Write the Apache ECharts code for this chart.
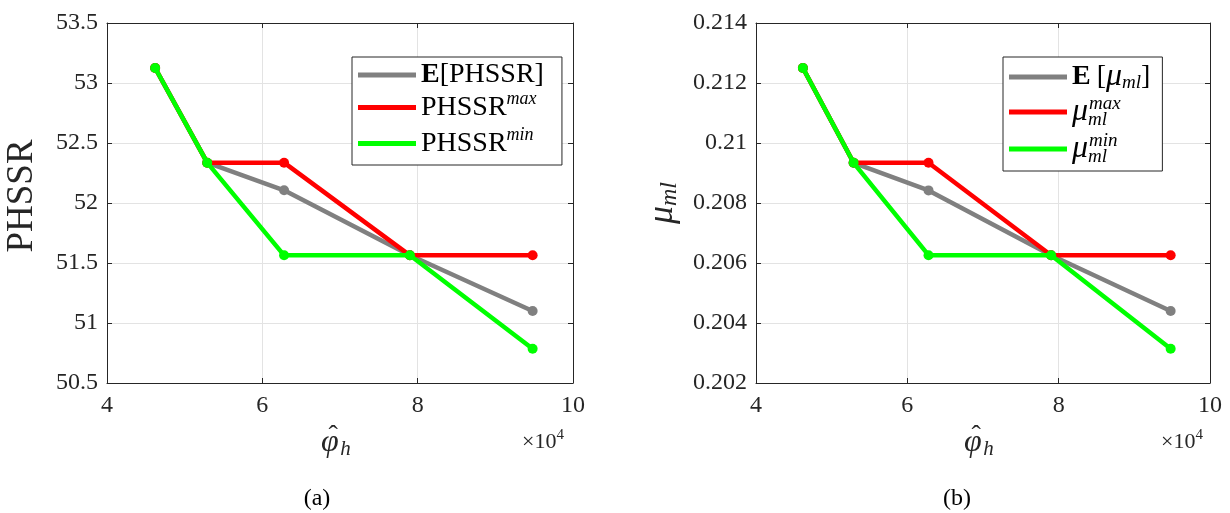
<!DOCTYPE html>
<html>
<head>
<meta charset="utf-8">
<script src="https://cdn.jsdelivr.net/npm/echarts@6/dist/echarts.min.js"></script>
<style>
html,body{margin:0;padding:0;background:#fff;}
#chart{width:1230px;height:513px;}
</style>
</head>
<body>
<div id="chart"></div>
<script>
// ---- data ----
const phiH = [46200, 52900, 62800, 79000, 94800];
const phssrMean = [53.125, 52.336, 52.106, 51.564, 51.10];
const phssrMax  = [53.125, 52.336, 52.336, 51.564, 51.564];
const phssrMin  = [53.125, 52.336, 51.564, 51.564, 50.786];
const muMean = [0.2125, 0.20934, 0.20842, 0.20626, 0.2044];
const muMax  = [0.2125, 0.20934, 0.20934, 0.20626, 0.20626];
const muMin  = [0.2125, 0.20934, 0.20626, 0.20626, 0.20314];
const xTicks = [4, 6, 8, 10];            // ×10^4
const yTicksA = [50.5, 51, 51.5, 52, 52.5, 53, 53.5];
const yTicksB = [0.202, 0.204, 0.206, 0.208, 0.21, 0.212, 0.214];
const names = {
  aMean: 'E[PHSSR]', aMax: 'PHSSR max', aMin: 'PHSSR min',
  bMean: 'E[mu_ml]', bMax: 'mu_ml max', bMin: 'mu_ml min'
};

const FONT = '"Liberation Serif", "DejaVu Serif", serif';
const INK = '#262626';
const GRIDC = '#e3e3e3';
const C_GRAY = '#808080', C_RED = '#ff0000', C_GREEN = '#00ff00';

function pairs(xs, ys) { return xs.map((x, i) => [x, ys[i]]); }

function xAxisDef(gi, pos) {
  const bottom = pos === 'bottom';
  return {
    type: 'value', gridIndex: gi, position: pos,
    min: xTicks[0] * 1e4, max: xTicks[xTicks.length - 1] * 1e4, interval: 2e4,
    axisLine: { show: true, onZero: false, lineStyle: { color: INK, width: 1 } },
    axisTick: { show: true, inside: true, length: 5, lineStyle: { color: INK } },
    axisLabel: { show: bottom, margin: 11, color: INK, fontFamily: FONT, fontSize: 24,
      formatter: v => String(v / 1e4) },
    splitLine: { show: bottom, lineStyle: { color: GRIDC, width: 1 } }
  };
}
function yAxisDef(gi, pos, ticks, step, dec) {
  const left = pos === 'left';
  return {
    type: 'value', gridIndex: gi, position: pos,
    min: ticks[0], max: ticks[ticks.length - 1], interval: step,
    axisLine: { show: true, onZero: false, lineStyle: { color: INK, width: 1 } },
    axisTick: { show: true, inside: true, length: 5, lineStyle: { color: INK } },
    axisLabel: { show: left, margin: 9, color: INK, fontFamily: FONT, fontSize: 24,
      formatter: v => String(parseFloat(v.toFixed(dec))) },
    splitLine: { show: left, lineStyle: { color: GRIDC, width: 1 } }
  };
}
function lineSeries(name, xi, yi, xs, ys, color, z) {
  return {
    type: 'line', name: name, xAxisIndex: xi, yAxisIndex: yi,
    data: pairs(xs, ys), z: z,
    lineStyle: { color: color, width: 4.5 },
    itemStyle: { color: color },
    symbol: 'circle', symbolSize: 10, showSymbol: true,
    animation: false
  };
}

const richBase = {
  n:   { fontFamily: FONT, fontSize: 28, lineHeight: 35, color: '#000' },
  sp:  { fontFamily: FONT, fontSize: 28, lineHeight: 35, color: '#000', width: 6 },
  b:   { fontFamily: FONT, fontSize: 28, lineHeight: 35, color: '#000', fontWeight: 'bold' },
  sup: { fontFamily: FONT, fontSize: 18, lineHeight: 18, color: '#000', fontStyle: 'italic', padding: [0, 0, 17, 0] },
  mu:  { fontFamily: FONT, fontSize: 32, lineHeight: 35, color: '#000', fontStyle: 'italic' },
  sub: { fontFamily: FONT, fontSize: 19, lineHeight: 19, color: '#000', fontStyle: 'italic', padding: [12, 0, 0, 0] },
  subz:{ fontFamily: FONT, fontSize: 19, lineHeight: 19, color: '#000', fontStyle: 'italic', padding: [15, 0, 0, 0], width: 1 },
  supm:{ fontFamily: FONT, fontSize: 19, lineHeight: 19, color: '#000', fontStyle: 'italic', padding: [0, 0, 17, 0] }
};
const legendFmt = {};
legendFmt[names.aMean] = '{b|E}{n|[PHSSR]}';
legendFmt[names.aMax]  = '{n|PHSSR}{sup|max}';
legendFmt[names.aMin]  = '{n|PHSSR}{sup|min}';
legendFmt[names.bMean] = '{b|E}{sp| }{n|[}{mu|μ}{sub|ml}{n|]}';
legendFmt[names.bMax]  = '{mu|μ}{subz|ml}{supm|max}';
legendFmt[names.bMin]  = '{mu|μ}{subz|ml}{supm|min}';

function legendDef(left, data, padR) {
  return {
    show: true, orient: 'vertical', left: left, top: 57,
    data: data, icon: 'rect', itemWidth: 58, itemHeight: 5, itemGap: 1,
    padding: [4, padR, 4, 6],
    backgroundColor: '#fff', borderColor: INK, borderWidth: 1, borderRadius: 0,
    selectedMode: false,
    formatter: n => legendFmt[n],
    textStyle: { rich: richBase }
  };
}

const phiName = '{phi|φ}{hat|ˆ}{sub|h}';
const phiRich = {
  phi: { fontFamily: FONT, fontSize: 32, fontStyle: 'italic', color: INK, width: 1, align: 'center' },
  hat: { fontFamily: FONT, fontSize: 28, color: INK, width: 6, align: 'center', padding: [0, 0, 12, 0] },
  sub: { fontFamily: FONT, fontSize: 21, fontStyle: 'italic', color: INK, padding: [14, 0, 0, 4] }
};

const chart = echarts.init(document.getElementById('chart'), null, { renderer: 'canvas' });
chart.setOption({
  backgroundColor: '#fff',
  animation: false,
  title: [
    { text: '(a)', left: 312, top: 482, textAlign: 'center',
      textStyle: { fontFamily: FONT, fontSize: 24, fontWeight: 'normal', color: '#000' } },
    { text: '(b)', left: 952, top: 482, textAlign: 'center',
      textStyle: { fontFamily: FONT, fontSize: 24, fontWeight: 'normal', color: '#000' } },
    { text: '×10{s|4}', left: 517, top: 423,
      textStyle: { fontFamily: FONT, fontSize: 22, fontWeight: 'normal', color: INK,
        rich: { s: { fontFamily: FONT, fontSize: 15, color: INK, padding: [0, 0, 13, 0] } } } },
    { text: '×10{s|4}', left: 1156, top: 423,
      textStyle: { fontFamily: FONT, fontSize: 22, fontWeight: 'normal', color: INK,
        rich: { s: { fontFamily: FONT, fontSize: 15, color: INK, padding: [0, 0, 13, 0] } } } }
  ],
  grid: [
    { left: 107, top: 23, right: 1230 - 573, bottom: 513 - 383, containLabel: false },
    { left: 756, top: 23, right: 1230 - 1210, bottom: 513 - 383, containLabel: false }
  ],
  xAxis: [
    Object.assign(xAxisDef(0, 'bottom'), {
      name: phiName, nameLocation: 'middle', nameGap: 28,
      nameTextStyle: { rich: phiRich }
    }),
    Object.assign(xAxisDef(1, 'bottom'), {
      name: phiName, nameLocation: 'middle', nameGap: 28,
      nameTextStyle: { rich: phiRich }
    }),
    xAxisDef(0, 'top'),
    xAxisDef(1, 'top')
  ],
  yAxis: [
    Object.assign(yAxisDef(0, 'left', yTicksA, 0.5, 1), {
      name: 'PHSSR', nameLocation: 'middle', nameGap: 66, nameRotate: 90,
      nameTextStyle: { fontFamily: FONT, fontSize: 37, color: INK, padding: [0, 0, 0, 14] }
    }),
    Object.assign(yAxisDef(1, 'left', yTicksB, 0.002, 3), {
      name: '{mu|μ}{sub|ml}', nameLocation: 'middle', nameGap: 74, nameRotate: 90,
      nameTextStyle: { rich: {
        mu: { fontFamily: FONT, fontSize: 36, fontStyle: 'italic', color: INK },
        sub: { fontFamily: FONT, fontSize: 24, fontStyle: 'italic', color: INK, padding: [14, 0, 0, 0] } } }
    }),
    yAxisDef(0, 'right', yTicksA, 0.5, 1),
    yAxisDef(1, 'right', yTicksB, 0.002, 3)
  ],
  legend: [
    legendDef(352, [names.aMean, names.aMax, names.aMin], 18),
    legendDef(1003, [names.bMean, names.bMax, names.bMin], 12)
  ],
  series: [
    lineSeries(names.aMean, 0, 0, phiH, phssrMean, C_GRAY, 2),
    lineSeries(names.aMax, 0, 0, phiH, phssrMax, C_RED, 3),
    lineSeries(names.aMin, 0, 0, phiH, phssrMin, C_GREEN, 4),
    lineSeries(names.bMean, 1, 1, phiH, muMean, C_GRAY, 2),
    lineSeries(names.bMax, 1, 1, phiH, muMax, C_RED, 3),
    lineSeries(names.bMin, 1, 1, phiH, muMin, C_GREEN, 4)
  ]
});
</script>
</body>
</html>
